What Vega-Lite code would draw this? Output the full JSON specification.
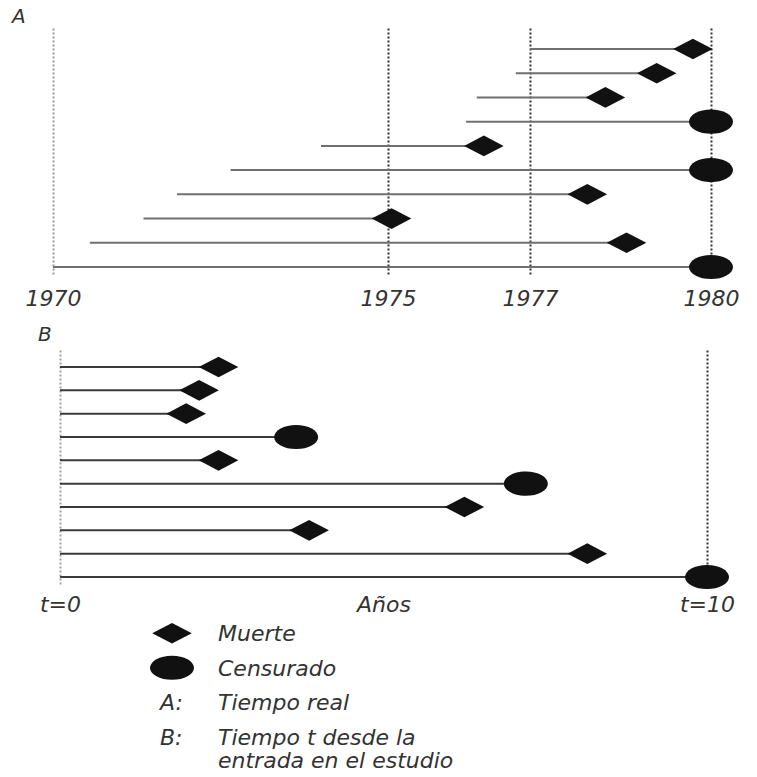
{
  "$schema": "https://vega.github.io/schema/vega-lite/v6.json",
  "background": "white",
  "padding": {"left": 12, "top": 7, "right": 0, "bottom": 0},
  "bounds": "full",
  "spacing": 0,
  "config": {
    "view": {"stroke": null},
    "font": "DejaVu Sans",
    "axis": {"labelFont": "DejaVu Sans", "labelFontStyle": "italic", "labelFontSize": 22, "labelColor": "#333", "domain": false, "ticks": false, "title": null}
  },
  "datasets": {
    "tiempo_real": [
      {"paciente": 1, "entrada": 1977.0, "salida": 1979.7, "estado": "Muerte"},
      {"paciente": 2, "entrada": 1976.8, "salida": 1979.1, "estado": "Muerte"},
      {"paciente": 3, "entrada": 1976.25, "salida": 1978.25, "estado": "Muerte"},
      {"paciente": 4, "entrada": 1976.1, "salida": 1980.0, "estado": "Censurado"},
      {"paciente": 5, "entrada": 1974.0, "salida": 1976.35, "estado": "Muerte"},
      {"paciente": 6, "entrada": 1972.65, "salida": 1980.0, "estado": "Censurado"},
      {"paciente": 7, "entrada": 1971.85, "salida": 1977.95, "estado": "Muerte"},
      {"paciente": 8, "entrada": 1971.35, "salida": 1975.05, "estado": "Muerte"},
      {"paciente": 9, "entrada": 1970.55, "salida": 1978.6, "estado": "Muerte"},
      {"paciente": 10, "entrada": 1970.0, "salida": 1980.0, "estado": "Censurado"}
    ],
    "desde_entrada": [
      {"paciente": 1, "inicio": 0, "t": 2.45, "estado": "Muerte"},
      {"paciente": 2, "inicio": 0, "t": 2.15, "estado": "Muerte"},
      {"paciente": 3, "inicio": 0, "t": 1.95, "estado": "Muerte"},
      {"paciente": 4, "inicio": 0, "t": 3.65, "estado": "Censurado"},
      {"paciente": 5, "inicio": 0, "t": 2.45, "estado": "Muerte"},
      {"paciente": 6, "inicio": 0, "t": 7.2, "estado": "Censurado"},
      {"paciente": 7, "inicio": 0, "t": 6.25, "estado": "Muerte"},
      {"paciente": 8, "inicio": 0, "t": 3.85, "estado": "Muerte"},
      {"paciente": 9, "inicio": 0, "t": 8.15, "estado": "Muerte"},
      {"paciente": 10, "inicio": 0, "t": 10.0, "estado": "Censurado"}
    ],
    "leyenda": [
      {"fila": 1, "simbolo": "Muerte", "clave": "", "texto": "Muerte"},
      {"fila": 2, "simbolo": "Censurado", "clave": "", "texto": "Censurado"},
      {"fila": 3, "simbolo": null, "clave": "A:", "texto": "Tiempo real"},
      {"fila": 4, "simbolo": null, "clave": "B:", "texto": "Tiempo t desde la\nentrada en el estudio"}
    ]
  },
  "vconcat": [
    {
      "bounds": "flush",
      "spacing": 75,
      "vconcat": [
        {
          "width": 658,
          "height": 248,
          "title": {"text": "A", "anchor": "start", "frame": "group", "dx": -41, "offset": -21, "baseline": "bottom", "fontSize": 20, "fontStyle": "italic", "fontWeight": "normal", "color": "#333", "font": "DejaVu Sans"},
          "data": {"name": "tiempo_real"},
          "layer": [
            {
              "mark": {"type": "rule", "color": "#707070", "strokeWidth": 2},
              "encoding": {
                "x": {
                  "field": "entrada", "type": "quantitative",
                  "scale": {"domain": [1970, 1975, 1977, 1980], "range": [0, 335, 477, 658], "nice": false, "zero": false},
                  "axis": {
                    "values": [1970, 1975, 1977, 1980], "format": "d", "labelPadding": 14, "labelFlush": false,
                    "grid": true, "gridDash": [2, 2], "gridWidth": 2,
                    "gridColor": {"condition": {"test": "datum.value === 1970", "value": "#9a9a9a"}, "value": "#333"}
                  }
                },
                "x2": {"field": "salida"},
                "y": {"field": "paciente", "type": "quantitative", "scale": {"domain": [0.05, 10.29], "reverse": true, "nice": false, "zero": false}, "axis": null}
              }
            },
            {
              "mark": {"type": "point", "filled": true, "color": "#111", "opacity": 1, "size": 1936, "strokeWidth": 0},
              "encoding": {
                "x": {"field": "salida", "type": "quantitative"},
                "y": {"field": "paciente", "type": "quantitative"},
                "shape": {"field": "estado", "type": "nominal", "scale": {"domain": ["Muerte", "Censurado"], "range": ["M-0.9,0L0,-0.47L0.9,0L0,0.47Z", "M-1,0A1,0.55 0 1,0 1,0A1,0.55 0 1,0 -1,0Z"]}, "legend": null}
              }
            }
          ]
        },
        {
          "width": 658,
          "height": 235,
          "title": {"text": "B", "anchor": "start", "frame": "group", "dx": -15, "offset": -16, "baseline": "bottom", "fontSize": 20, "fontStyle": "italic", "fontWeight": "normal", "color": "#333", "font": "DejaVu Sans"},
          "data": {"name": "desde_entrada"},
          "layer": [
            {
              "mark": {"type": "rule", "color": "#3a3a3a", "strokeWidth": 2},
              "encoding": {
                "x": {
                  "field": "inicio", "type": "quantitative",
                  "scale": {"domain": [0, 10], "range": [7, 654], "nice": false, "zero": false},
                  "axis": {
                    "values": [0, 5, 10], "labelPadding": 10, "labelFlush": false,
                    "labelExpr": "datum.value === 0 ? 't=0' : datum.value === 10 ? 't=10' : 'Años'",
                    "grid": true, "gridDash": [2, 2], "gridWidth": 2,
                    "gridOpacity": {"condition": {"test": "datum.value === 5", "value": 0}, "value": 1},
                    "gridColor": {"condition": {"test": "datum.value === 0", "value": "#a0a0a0"}, "value": "#333"}
                  }
                },
                "x2": {"field": "t"},
                "y": {"field": "paciente", "type": "quantitative", "scale": {"domain": [0.23, 10.3], "reverse": true, "nice": false, "zero": false}, "axis": null}
              }
            },
            {
              "mark": {"type": "point", "filled": true, "color": "#111", "opacity": 1, "size": 1936, "strokeWidth": 0},
              "encoding": {
                "x": {"field": "t", "type": "quantitative"},
                "y": {"field": "paciente", "type": "quantitative"},
                "shape": {"field": "estado", "type": "nominal", "scale": {"domain": ["Muerte", "Censurado"], "range": ["M-0.9,0L0,-0.47L0.9,0L0,0.47Z", "M-1,0A1,0.55 0 1,0 1,0A1,0.55 0 1,0 -1,0Z"]}, "legend": null}
              }
            }
          ]
        }
      ]
    },
    {
      "width": 284,
      "height": 140,
      "data": {"name": "leyenda"},
      "encoding": {
        "y": {"field": "fila", "type": "ordinal", "scale": {"type": "point", "padding": 0.53}, "axis": null}
      },
      "layer": [
        {
          "transform": [{"filter": "datum.simbolo != null"}],
          "mark": {"type": "point", "filled": true, "color": "#111", "opacity": 1, "size": 1936, "strokeWidth": 0},
          "encoding": {
            "x": {"datum": 0, "type": "quantitative", "scale": {"domain": [-2.587, 3.587], "nice": false, "zero": false}, "axis": null},
            "shape": {"field": "simbolo", "type": "nominal", "scale": {"domain": ["Muerte", "Censurado"], "range": ["M-0.9,0L0,-0.47L0.9,0L0,0.47Z", "M-1,0A1,0.55 0 1,0 1,0A1,0.55 0 1,0 -1,0Z"]}, "legend": null}
          }
        },
        {
          "mark": {"type": "text", "align": "left", "baseline": "alphabetic", "dx": -12, "dy": 8, "fontSize": 22, "fontStyle": "italic", "font": "DejaVu Sans", "color": "#333"},
          "encoding": {
            "x": {"datum": 0, "type": "quantitative"},
            "text": {"field": "clave", "type": "nominal"}
          }
        },
        {
          "mark": {"type": "text", "align": "left", "baseline": "alphabetic", "dy": 8, "fontSize": 22, "fontStyle": "italic", "font": "DejaVu Sans", "color": "#333", "lineBreak": "\n", "lineHeight": 23},
          "encoding": {
            "x": {"datum": 1, "type": "quantitative"},
            "text": {"field": "texto", "type": "nominal"}
          }
        }
      ]
    }
  ]
}
